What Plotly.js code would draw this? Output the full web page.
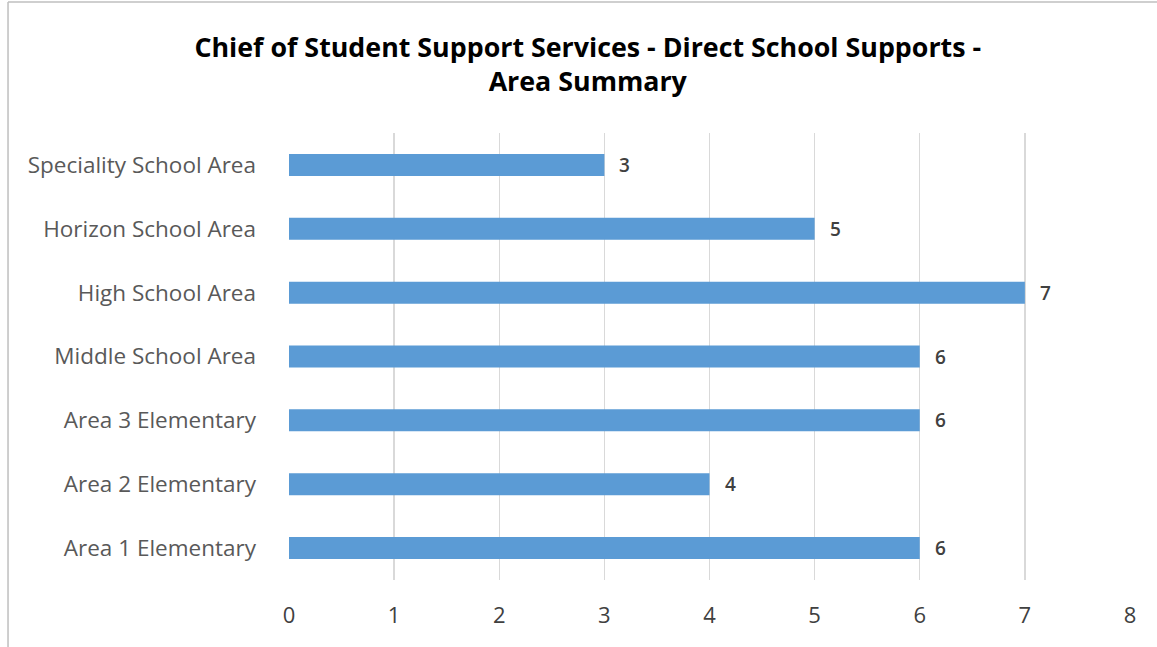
<!DOCTYPE html>
<html>
<head>
<meta charset="utf-8">
<script src="https://cdn.plot.ly/plotly-3.0.1.min.js"></script>
<style>html,body{margin:0;padding:0;background:#fff;}#chart{width:1157px;height:647px;}</style>
</head>
<body>
<div id="chart"></div>
<script>
const categories = ["Area 1 Elementary","Area 2 Elementary","Area 3 Elementary","Middle School Area","High School Area","Horizon School Area","Speciality School Area"];
const values = [6,4,6,6,7,5,3];
const xTicks = [0,1,2,3,4,5,6,7,8];

const trace = {
  type: 'bar',
  orientation: 'h',
  y: categories,
  x: values,
  width: 0.345,
  marker: {color: '#5b9bd5'},
  hoverinfo: 'none'
};

const labelAnnotations = values.map((v, i) => ({
  x: v, y: categories[i], xref: 'x', yref: 'y',
  text: String(v), showarrow: false,
  xanchor: 'left', yanchor: 'middle', xshift: 13, yshift: 0,
  font: {family: 'Open Sans, sans-serif', size: 19, color: '#404040', weight: 600}
}));

const layout = {
  width: 1157, height: 647,
  margin: {l: 289, r: 27, t: 133, b: 67},
  paper_bgcolor: '#ffffff', plot_bgcolor: '#ffffff',
  showlegend: false,
  title: {
    text: 'Chief of Student Support Services - Direct School Supports -<br>Area Summary',
    x: 0.508, xanchor: 'center', y: 0.9126, yanchor: 'middle',
    font: {family: 'Open Sans, sans-serif', size: 26.8, color: '#000000', weight: 'bold'}
  },
  xaxis: {
    range: [0, 8], tickvals: xTicks, ticktext: xTicks.map(String),
    showgrid: true, gridcolor: '#d9d9d9', gridwidth: 1.3,
    zeroline: false, showline: false, ticks: '',
    ticklabelstandoff: 20,
    tickfont: {family: 'Open Sans, sans-serif', size: 22, color: '#404040'},
    fixedrange: true
  },
  yaxis: {
    type: 'category', categoryorder: 'array', categoryarray: categories,
    showgrid: false, zeroline: false, showline: false, ticks: '',
    ticklabelstandoff: 32,
    tickfont: {family: 'Open Sans, sans-serif', size: 22.5, color: '#595959'},
    fixedrange: true
  },
  annotations: labelAnnotations,
  shapes: [
    {type: 'line', xref: 'paper', yref: 'paper', x0: -0.3341, x1: -0.3341, y0: -0.2, y1: 1.293,
     line: {color: '#bfbfbf', width: 1.5}},
    {type: 'line', xref: 'paper', yref: 'paper', x0: -0.3341, x1: 1.1, y0: 1.293, y1: 1.293,
     line: {color: '#bfbfbf', width: 1.5}}
  ]
};

Plotly.newPlot('chart', [trace], layout, {displayModeBar: false, staticPlot: true});
</script>
</body>
</html>
